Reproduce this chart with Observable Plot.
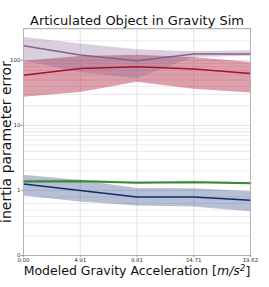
<!DOCTYPE html>
<html>
<head>
<meta charset="utf-8">
<script src="https://cdn.jsdelivr.net/npm/d3@7"></script>
<script src="https://cdn.jsdelivr.net/npm/@observablehq/plot@0.6"></script>
<style>
  html, body { margin: 0; padding: 0; background: white; }
  #chart svg { display: block; }
</style>
</head>
<body>
<div id="chart"></div>
<script>
// ---- data ----
const gravity = [0, 4.905, 9.81, 14.715, 19.62];
const xTickLabels = ["0.00", "4.91", "9.81", "14.71", "19.62"];
const yTicks = [0, 1, 10, 100];
const yTickLabels = ["0", "1", "10", "100"];
const yMinorGrid = [0.3, 0.5, 0.6, 0.7, 0.8, 0.9, 2, 3, 4, 5, 6, 7, 8, 9, 20, 30, 40, 50, 60, 70, 80, 90, 200, 300];

const purpleMean = [168, 121, 99, 125, 125];
const purpleLow  = [97, 65, 52, 111, 116];
const purpleHigh = [226, 178, 146, 136, 141];

const redMean = [59, 75, 80, 73.5, 63];
const redLow  = [27, 32, 46, 36, 31.4];
const redHigh = [97, 115, 120, 111, 93];

const greenMean = [1.375, 1.39, 1.31, 1.34, 1.29];
const greenLow  = [1.33, 1.345, 1.27, 1.30, 1.25];
const greenHigh = [1.42, 1.435, 1.35, 1.38, 1.33];

const navyMean = [1.26, 1.0, 0.9, 0.898, 0.848];
const navyLow  = [0.913, 0.822, 0.761, 0.746, 0.674];
const navyHigh = [1.72, 1.42, 1.07, 1.06, 0.979];

const series = [
  {name: "purple", mean: purpleMean, low: purpleLow, high: purpleHigh, color: "#85608c", width: 1.5, bandOpacity: 0.3},
  {name: "red", mean: redMean, low: redLow, high: redHigh, color: "#a8102c", width: 1.5, bandOpacity: 0.4},
  {name: "green", mean: greenMean, low: greenLow, high: greenHigh, color: "#3a8a36", width: 2, bandOpacity: 0.35},
  {name: "navy", mean: navyMean, low: navyLow, high: navyHigh, color: "#0c2c72", width: 1.5, bandOpacity: 0.3}
];

const rows = series.flatMap(s => gravity.map((g, i) => ({
  series: s.name, g, mean: s.mean[i], low: s.low[i], high: s.high[i]
})));

// matplotlib-style symlog (linthresh = 1, linscale = 1)
const symlog = v => v <= 1 ? v : 1 + Math.log10(v);

const marks = [];
// grid
marks.push(Plot.ruleY(yMinorGrid, {stroke: "#e6e6e6", strokeWidth: 0.8}));
marks.push(Plot.gridY(yTicks, {stroke: "#dcdcdc", strokeOpacity: 1, strokeWidth: 0.8}));
marks.push(Plot.gridX(gravity, {stroke: "#dcdcdc", strokeOpacity: 1, strokeWidth: 0.8}));
// bands
for (const name of ["red", "purple", "navy", "green"]) {
  const s = series.find(d => d.name === name);
  marks.push(Plot.areaY(rows.filter(r => r.series === name), {
    x: "g", y1: "low", y2: "high", fill: s.color, fillOpacity: s.bandOpacity
  }));
}
// lines
for (const name of ["red", "purple", "navy", "green"]) {
  const s = series.find(d => d.name === name);
  marks.push(Plot.lineY(rows.filter(r => r.series === name), {
    x: "g", y: "mean", stroke: s.color, strokeWidth: s.width
  }));
}
marks.push(Plot.frame({stroke: "#b3b3b3", strokeWidth: 1}));
marks.push(Plot.axisX(gravity, {label: null, tickSize: 2, tickPadding: 1, tickFormat: (d, i) => xTickLabels[i], fontSize: 5.5, fill: "#333", stroke: "#999"}));
marks.push(Plot.axisY(yTicks, {label: null, tickSize: 2, tickPadding: 1, tickFormat: (d, i) => yTickLabels[i], fontSize: 5.5, fill: "#333", stroke: "#999"}));
// title and labels
marks.push(Plot.text(["Articulated Object in Gravity Sim"], {frameAnchor: "top", dy: -4, fontSize: 13, fill: "#111", lineAnchor: "bottom"}));
marks.push(Plot.text(["Modeled Gravity Acceleration [m/s2]"], {frameAnchor: "bottom", dy: 19, fontSize: 12.5, fill: "#111"}));
marks.push(Plot.text(["inertia parameter error"], {frameAnchor: "left", textAnchor: "middle", dx: -17, rotate: -90, fontSize: 14, fill: "#111"}));

const chart = Plot.plot({
  width: 269,
  height: 287,
  marginLeft: 23,
  marginRight: 19,
  marginTop: 28,
  marginBottom: 32,
  style: {fontFamily: "DejaVu Sans", background: "white", overflow: "visible"},
  x: {domain: [0, 19.62], axis: null},
  y: {type: "linear", transform: symlog, domain: [0, 3.49], axis: null},
  marks
});
document.getElementById("chart").appendChild(chart);

// rich text for x label: italic m/s with superscript 2
d3.select(chart).selectAll("text").each(function() {
  if (this.textContent === "Modeled Gravity Acceleration [m/s2]") {
    const t = d3.select(this);
    t.text(null);
    t.append("tspan").text("Modeled Gravity Acceleration [");
    t.append("tspan").attr("font-style", "italic").text("m/s");
    t.append("tspan").attr("font-style", "italic").attr("font-size", "0.7em").attr("dy", "-0.45em").text("2");
    t.append("tspan").attr("dy", "0.45em").text("]");
  }
});
</script>
</body>
</html>
